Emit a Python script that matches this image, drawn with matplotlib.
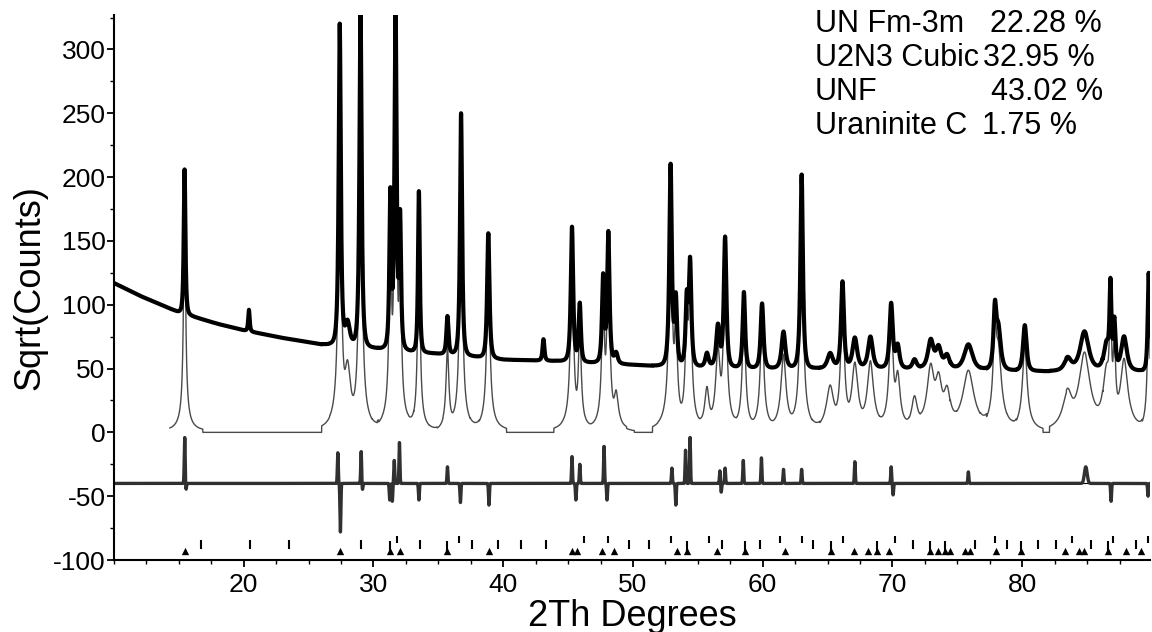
# Diagrama de Rietveld (raiz de cuentas vs 2theta)
import numpy as np
import matplotlib
matplotlib.use("Agg")
import matplotlib.pyplot as plt
from matplotlib.ticker import MultipleLocator

plt.rcParams['font.family'] = ['Liberation Sans', 'DejaVu Sans']
plt.rcParams['axes.unicode_minus'] = False

bg_pos = [10, 12, 15, 18, 20, 23, 26, 30, 33, 36, 40, 44, 48, 52, 60, 70, 80, 90]
bg_val = [117, 107, 94, 85, 80, 74, 69, 66, 63, 61, 57, 56, 54, 52, 50, 50, 48, 48]

# Picos ajustados: posicion, altura observada (sqrt), semi-ancho
pk_pos = [15.44, 27.40, 28.00, 29.00, 31.30, 31.70, 32.05, 33.50, 35.70, 36.75,
          38.85, 45.30, 45.90, 47.70, 48.10, 48.70, 52.90, 53.30, 54.15, 54.40,
          55.70, 56.55, 57.10, 58.55, 59.95, 61.60, 63.00, 65.20, 66.15, 67.10,
          68.30, 69.90, 70.40, 71.70, 72.95, 73.55, 74.20, 75.85, 77.90, 78.15,
          80.20, 83.50, 84.80, 86.50, 86.80, 87.10, 87.85, 89.75]
pk_top = [206, 320, 86, 335, 189, 335, 170, 189, 91, 250,
          156, 161, 101, 123, 157, 62, 210, 106, 106, 135,
          62, 84, 153, 110, 101, 79, 202, 62, 118, 74,
          75, 101, 68, 57, 72, 66, 60, 69, 96, 82,
          84, 58, 79, 70, 116, 87, 75, 125]
pk_w = [0.08, 0.09, 0.25, 0.09, 0.09, 0.09, 0.09, 0.08, 0.11, 0.09,
        0.11, 0.11, 0.11, 0.11, 0.11, 0.18, 0.11, 0.12, 0.12, 0.12,
        0.18, 0.18, 0.12, 0.12, 0.14, 0.20, 0.11, 0.30, 0.14, 0.25,
        0.25, 0.16, 0.20, 0.25, 0.30, 0.30, 0.30, 0.45, 0.14, 0.25,
        0.18, 0.40, 0.45, 0.30, 0.09, 0.11, 0.30, 0.09]

# Picos sin ajustar (solo en el observado)
extra_pos = [20.40, 43.10]
extra_top = [96, 73]
extra_w = [0.08, 0.10]

# Curva diferencia (obs - calc), desplazada a -40
dif_pos = [15.45, 15.55, 27.25, 27.45, 29.05, 29.15, 31.25, 31.45, 31.60, 32.00,
           33.50, 35.70, 36.70, 38.90, 45.30, 45.60, 45.90, 47.77, 48.00, 53.00,
           53.30, 54.05, 54.40, 56.70, 56.80, 57.10, 58.50, 59.90, 61.60, 63.00,
           67.10, 69.90, 70.05, 75.85, 84.90, 86.85, 89.70]
dif_amp = [36, -5, 24, -38, 25, -5, -13, -14, 18, 32,
           -13, 13, -15, -17, 21, -13, 15, 29, -13, 12,
           -17, 26, 36, 10, -7, 12, 18, 20, 11, 11,
           17, 13, -9, 9, 13, -14, -10]

# Marcas de reflexiones de las fases
bar_pos = [16.7, 20.45, 23.5, 29.0, 33.55, 37.6, 39.6, 41.4, 43.3, 49.7, 51.2,
           56.9, 59.8, 63.9, 71.6, 76.4, 78.8, 81.2, 82.6, 85.3, 88.8]
bar_hi_pos = [31.8, 36.6, 46.2, 48.1, 52.9, 55.85, 61.35, 63.0, 66.2, 70.2,
              77.9, 83.8, 87.0, 89.7]
tri_pos = [15.5, 27.45, 32.05, 38.9, 45.3, 45.7, 47.6, 48.5, 53.4, 56.5, 61.7,
           67.0, 68.15, 69.7, 73.5, 74.4, 75.6, 76.0, 78.0, 83.3, 84.4, 84.8,
           88.0, 89.15]
stem_pos = [31.3, 35.65, 54.2, 58.6, 65.3, 68.8, 72.9, 74.05, 79.9, 86.6]

fases = ["UN Fm-3m", "U2N3 Cubic", "UNF", "Uraninite C"]
pct = ["22.28 %", "32.95 %", "43.02 %", "1.75 %"]


def perfil(x, pos, top, w, corte=1.4):
    # Pearson VII (m=1.5) truncado
    P = np.zeros_like(x)
    for p, t, ww in zip(pos, top, w):
        A = max(t ** 2 - np.interp(p, bg_pos, bg_val) ** 2, 0)
        d = x - p
        m = np.abs(d) < corte
        P[m] += A / (1 + (d[m] / ww) ** 2) ** 1.5
    return P


x = np.arange(10, 90, 0.01)
bg = np.interp(x, bg_pos, bg_val)
P = perfil(x, pk_pos, pk_top, pk_w)
Pe = perfil(x, extra_pos, extra_top, extra_w)
obs = np.sqrt(bg ** 2 + P + Pe)
calc = np.sqrt(P)
dif = np.full_like(x, -40.0)
for p, a in zip(dif_pos, dif_amp):
    s = 0.15 if 84 < p < 85.5 else 0.05
    dif += a * np.exp(-((x - p) / s) ** 2)

fig = plt.figure(figsize=(11.52, 6.32), dpi=100)
ax = fig.add_axes([114 / 1152, 1 - 560 / 632, 1036 / 1152, 545 / 632])

m = x >= 14.3
ax.plot(x[m], calc[m], color='#4a4a4a', lw=1.0)
ax.plot(x, obs, color='black', lw=3.0)
ax.axhline(-40, color='black', lw=0.8)
ax.plot(x, dif, color='#303030', lw=2.4)

ax.vlines(bar_pos, -91, -84.5, color='black', lw=1.5)
ax.vlines(bar_hi_pos, -87, -81, color='black', lw=1.5)
ax.vlines(stem_pos, -93, -85, color='black', lw=1.5)
ax.scatter(tri_pos + stem_pos, [-92.8] * (len(tri_pos) + len(stem_pos)),
           marker='^', s=28, color='black', linewidths=0)

ax.set_xlim(10, 89.85)
ax.set_ylim(-100, 327)
ax.xaxis.set_minor_locator(MultipleLocator(2.5))
ax.yaxis.set_major_locator(MultipleLocator(50))
ax.yaxis.set_minor_locator(MultipleLocator(25))
ax.set_xticks([20, 30, 40, 50, 60, 70, 80])
ax.spines['top'].set_visible(False)
ax.spines['right'].set_visible(False)
ax.spines['left'].set_linewidth(1.5)
ax.spines['bottom'].set_linewidth(1.5)
ax.tick_params(axis='both', which='major', labelsize=19, width=1.3, length=5)
ax.tick_params(axis='both', which='minor', width=1.0, length=3)
ax.tick_params(axis='y', pad=1)
ax.tick_params(axis='x', pad=4)

ax.set_xlabel("2Th Degrees", fontsize=26, labelpad=2)
ax.set_ylabel("Sqrt(Counts)", fontsize=26, labelpad=4)

# Porcentajes de las fases
ys = [24, 58, 92, 126]
xv = [990, 983, 991, 982]
for f, v, yy, xx in zip(fases, pct, ys, xv):
    fig.text(815 / 1152, 1 - yy / 632, f, fontsize=22, va='center', ha='left')
    fig.text(xx / 1152, 1 - yy / 632, v, fontsize=22, va='center', ha='left')

fig.savefig("out.png", dpi=100)
